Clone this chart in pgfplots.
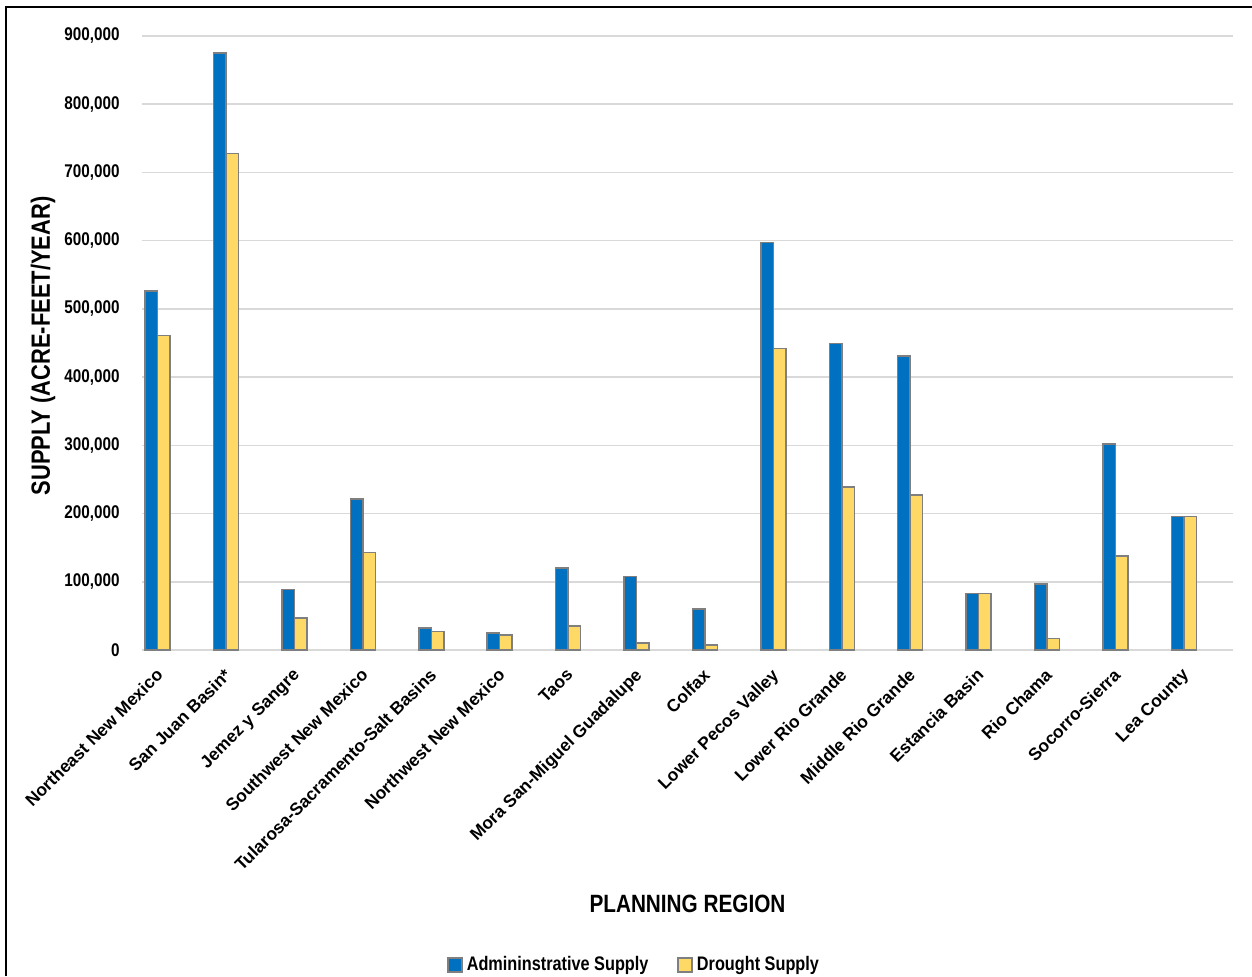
\documentclass[border=0pt]{standalone}
\usepackage{fontspec}
\setmainfont{Liberation Sans}
\newfontfamily\nb{Liberation Sans}[FakeStretch=0.83]
\usepackage{pgfplots}
\pgfplotsset{compat=1.18}
\definecolor{adminblue}{HTML}{0070C0}
\definecolor{droughtyel}{HTML}{FFD966}
\definecolor{bargray}{HTML}{7F7F7F}
\definecolor{gridgray}{HTML}{D9D9D9}
\begin{document}
\begin{tikzpicture}
\useasboundingbox (0,0) rectangle (626pt,488pt);
\draw[line width=1pt] (3pt,0pt) -- (3pt,484.5pt) -- (626pt,484.5pt);
\begin{axis}[
  at={(71pt,163pt)}, anchor=south west,
  scale only axis, width=545.5pt, height=307pt,
  ybar=0pt, bar width=6.25pt,
  xmin=-0.23, xmax=15.72,
  ymin=0, ymax=900000,
  scaled y ticks=false,
  ytick={0,100000,200000,300000,400000,500000,600000,700000,800000,900000},
  yticklabels={0,{100,000},{200,000},{300,000},{400,000},{500,000},{600,000},{700,000},{800,000},{900,000}},
  axis line style={draw=none},
  axis x line*=bottom,
  axis y line*=left,
  major tick length=0pt,
  ymajorgrids, grid style={gridgray, line width=0.8pt},
  xtick={0,...,15},
  xticklabels={Northeast New Mexico, San Juan Basin*, Jemez y Sangre, Southwest New Mexico, Tularosa-Sacramento-Salt Basins, Northwest New Mexico, Taos, Mora San-Miguel Guadalupe, Colfax, Lower Pecos Valley, Lower Rio Grande, Middle Rio Grande, Estancia Basin, Rio Chama, Socorro-Sierra, Lea County},
  xticklabel style={font=\bfseries\fontsize{8.7pt}{10pt}\selectfont, rotate=45, anchor=north east, inner sep=0pt, xshift=-7pt, yshift=-5pt},
  yticklabel style={font=\nb\bfseries\fontsize{9.2pt}{11pt}\selectfont, inner sep=0pt, xshift=-11pt},
  xlabel={PLANNING REGION},
  ylabel={SUPPLY (ACRE-FEET/YEAR)},
  every axis x label/.style={at={(axis description cs:0.5,0)}, anchor=center, yshift=-127pt, font=\nb\bfseries\fontsize{12.5pt}{15pt}\selectfont},
  every axis y label/.style={at={(axis description cs:0,0.5)}, xshift=-49.5pt, yshift=-1.5pt, rotate=90, anchor=center, font=\nb\bfseries\fontsize{13.2pt}{15pt}\selectfont},
  legend style={at={(axis description cs:0.452,-0.513)}, anchor=center, draw=none, fill=none, legend columns=2,
    font=\nb\bfseries\fontsize{9.8pt}{11pt}\selectfont,
    /tikz/every odd column/.append style={column sep=0pt},
    /tikz/every even column/.append style={column sep=12.5pt}},
  legend image code/.code={\draw[#1] (0pt,-3.5pt) rectangle (7pt,3.5pt);},
]
\addplot[fill=adminblue, draw=bargray, line width=0.75pt] coordinates {
 (0,526000) (1,875000) (2,89000) (3,221000) (4,32000) (5,25000) (6,120000) (7,108000)
 (8,60000) (9,597000) (10,449000) (11,431000) (12,83000) (13,97000) (14,302000) (15,196000)};
\addlegendentry{Admininstrative Supply}
\addplot[fill=droughtyel, draw=bargray, line width=0.75pt] coordinates {
 (0,461000) (1,728000) (2,47000) (3,143000) (4,27000) (5,22000) (6,35000) (7,10000)
 (8,7000) (9,442000) (10,239000) (11,227000) (12,83000) (13,17000) (14,138000) (15,196000)};
\addlegendentry{Drought Supply}
\end{axis}
\end{tikzpicture}
\end{document}
